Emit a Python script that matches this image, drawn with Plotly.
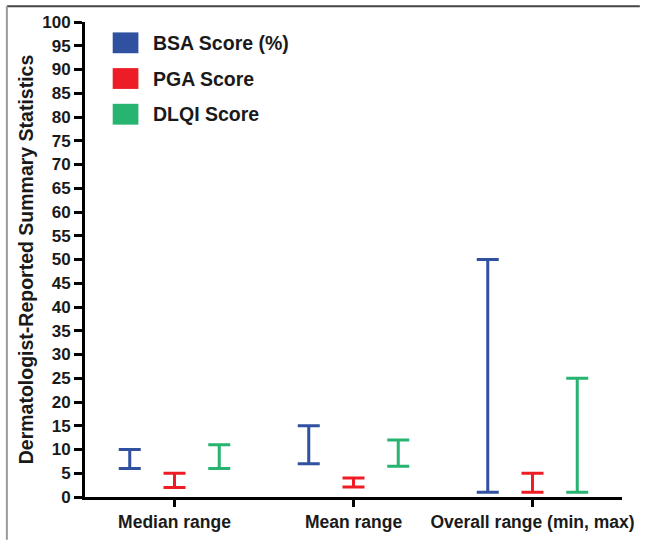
import plotly.graph_objects as go

categories = ["Median range", "Mean range", "Overall range (min, max)"]
series_names = ["BSA Score (%)", "PGA Score", "DLQI Score"]
series_colors = ["#3050A0", "#EE1C25", "#27B370"]
# low and high of each range, per series, per category
bsa_low = [6, 7, 1]
bsa_high = [10, 15, 50]
pga_low = [2, 2.1, 1]
pga_high = [5, 4, 5]
dlqi_low = [6, 6.5, 1]
dlqi_high = [11, 12, 25]
y_ticks = list(range(0, 101, 5))

lows = [bsa_low, pga_low, dlqi_low]
highs = [bsa_high, pga_high, dlqi_high]
offsets = [-0.25, 0.0, 0.25]

FONT = "Liberation Sans, Arial, Helvetica, sans-serif"
fig = go.Figure()
for name, color, lo, hi, off in zip(series_names, series_colors, lows, highs, offsets):
    xs = [i + off for i in range(len(categories))]
    mid = [(a + b) / 2 for a, b in zip(lo, hi)]
    half = [(b - a) / 2 for a, b in zip(lo, hi)]
    fig.add_trace(go.Scatter(
        x=xs, y=mid, mode="markers", name=name,
        marker=dict(size=1, color="rgba(0,0,0,0)"),
        error_y=dict(type="data", array=half, symmetric=True,
                     color=color, thickness=3, width=11),
        showlegend=False,
        hovertemplate=name + "<extra></extra>",
    ))

L, R, T, B = 85, 18, 22, 43
W, H = 646, 544
pw, ph = W - L - R, H - T - B

def px(xp):
    return (xp - L) / pw

def py(yp):
    return (H - B - yp) / ph

shapes = []
annotations = []
# frame lines
shapes.append(dict(type="line", xref="paper", yref="paper", x0=px(6), x1=px(646),
                   y0=py(6), y1=py(6), line=dict(color="#444444", width=2)))
shapes.append(dict(type="line", xref="paper", yref="paper", x0=px(6), x1=px(6),
                   y0=py(6), y1=py(544), line=dict(color="#9a9a9a", width=2)))
# legend
for i, (name, color) in enumerate(zip(series_names, series_colors)):
    cy = 43 + 36 * i
    shapes.append(dict(type="rect", xref="paper", yref="paper",
                       x0=px(113), x1=px(139), y0=py(cy - 10.5), y1=py(cy + 10.5),
                       fillcolor=color, line=dict(width=0)))
    annotations.append(dict(xref="paper", yref="paper", x=px(152), y=py(cy),
                            xanchor="left", yanchor="middle", showarrow=False,
                            text=name, font=dict(family=FONT, size=19.5, color="#1a1a1a", weight="bold")))

fig.update_layout(
    width=W, height=H,
    margin=dict(l=L, r=R, t=T, b=B),
    plot_bgcolor="white", paper_bgcolor="white",
    shapes=shapes, annotations=annotations,
    showlegend=False,
    font=dict(family=FONT, color="#1a1a1a", weight="bold"),
)
fig.update_xaxes(
    range=[-0.5, 2.5], tickmode="array", tickvals=list(range(len(categories))),
    ticktext=categories, showgrid=False, zeroline=False,
    showline=True, linecolor="black", linewidth=3,
    ticks="outside", ticklen=7, tickwidth=3, tickcolor="black",
    tickfont=dict(family=FONT, size=17.5, color="#1a1a1a", weight="bold"),
)
fig.update_yaxes(
    range=[0, 100], tickmode="array", tickvals=y_ticks,
    showgrid=False, zeroline=False,
    showline=True, linecolor="black", linewidth=3,
    ticks="outside", ticklen=8, tickwidth=2.5, tickcolor="black",
    tickfont=dict(family=FONT, size=17, color="#1a1a1a", weight="bold"),
    title=dict(text="Dermatologist-Reported Summary Statistics", standoff=4,
               font=dict(family=FONT, size=19.5, color="#1a1a1a", weight="bold")),
)
fig.write_html("out.html", config={"displayModeBar": False},
               post_script="document.body.style.margin='0';document.body.style.overflow='hidden';")
